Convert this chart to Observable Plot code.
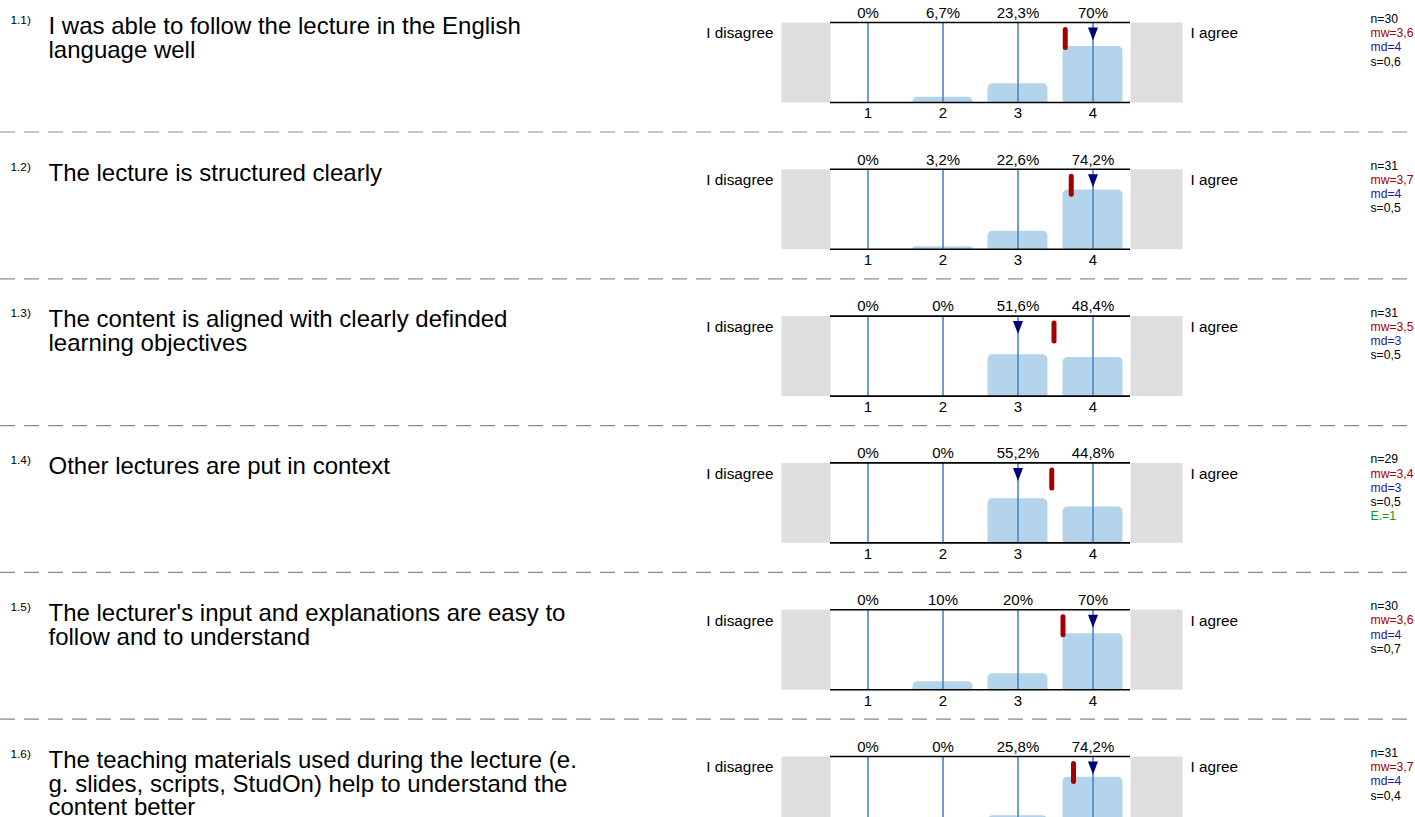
<!DOCTYPE html>
<html>
<head>
<meta charset="utf-8">
<script src="https://cdn.jsdelivr.net/npm/d3@7"></script>
<script src="https://cdn.jsdelivr.net/npm/@observablehq/plot@0.6"></script>
<style>
  html, body { margin: 0; padding: 0; background: #fff; overflow: hidden; }
  #chart svg { display: block; }
</style>
</head>
<body>
<div id="chart"></div>
<script>
// ---------- data ----------
const questionNumbers = ["1.1)", "1.2)", "1.3)", "1.4)", "1.5)", "1.6)"];
const questions = [
  "I was able to follow the lecture in the English\nlanguage well",
  "The lecture is structured clearly",
  "The content is aligned with clearly definded\nlearning objectives",
  "Other lectures are put in context",
  "The lecturer's input and explanations are easy to\nfollow and to understand",
  "The teaching materials used during the lecture (e.\ng. slides, scripts, StudOn) help to understand the\ncontent better"
];
const categories = [1, 2, 3, 4];
const tickLabels = ["1", "2", "3", "4"];
const leftPole = "I disagree";
const rightPole = "I agree";
const percentages = [
  [0, 6.7, 23.3, 70],
  [0, 3.2, 22.6, 74.2],
  [0, 0, 51.6, 48.4],
  [0, 0, 55.2, 44.8],
  [0, 10, 20, 70],
  [0, 0, 25.8, 74.2]
];
const nValues = [30, 31, 31, 29, 30, 31];
const meanPositions = [3.63, 3.71, 3.48, 3.45, 3.6, 3.74];
const meanLabels = [3.6, 3.7, 3.5, 3.4, 3.6, 3.7];
const medians = [4, 4, 3, 3, 4, 4];
const stdDevs = [0.6, 0.5, 0.5, 0.5, 0.7, 0.4];
const abstentions = [null, null, null, 1, null, null];

// ---------- tables ----------
const fmt = v => String(v).replace(".", ",");
const rows = questions.map((q, i) => ({
  row: i, num: questionNumbers[i], question: q,
  n: nValues[i], mean: meanPositions[i], meanLabel: meanLabels[i],
  median: medians[i], s: stdDevs[i], e: abstentions[i]
}));
const cells = rows.flatMap(r => categories.map((k, j) => ({
  row: r.row, k, pct: percentages[r.row][j], tick: tickLabels[j]
})));

// ---------- styles ----------
const FONT = "'Liberation Sans', Arial, Helvetica, sans-serif";
const barFill = "#b4d4eb";
const lineBlue = "#4a86c6";
const meanRed = "#a50000";
const medianNavy = "#00007a";
const grayBox = "#dedede";

const downTriangle = {
  draw(ctx) {
    ctx.moveTo(-5, -6.5);
    ctx.lineTo(5, -6.5);
    ctx.lineTo(0, 6.5);
    ctx.closePath();
  }
};

const step = 146.8, band = 80;
const pInner = (step - band) / step;
const nRows = rows.length;
const marginTop = 22, marginBottom = 45;
const height = marginTop + step * (nRows - pInner) + marginBottom;

const statFont = 12.2, statStep = 14.2, statX = 240, statTop = -3.5;

const plot = Plot.plot({
  width: 1415,
  height,
  marginLeft: 830,
  marginRight: 285,
  marginTop,
  marginBottom,
  style: { fontFamily: FONT, background: "white", color: "black" },
  x: { domain: [0.5, 4.5], axis: null },
  y: { domain: [0, 100], axis: null },
  fy: { domain: rows.map(r => r.row), paddingInner: pInner, paddingOuter: 0, round: false, axis: null },
  marks: [
    // gray pole boxes + white plotting area
    Plot.frame({ fill: grayBox, stroke: null, insetLeft: -49, insetRight: -52 }),
    Plot.frame({ fill: "white", stroke: null }),
    // bars
    Plot.rect(cells, {
      x1: d => d.k - 0.4, x2: d => d.k + 0.4, y1: () => 0, y2: "pct",
      fy: "row", fill: barFill, ry2: 5
    }),
    // category lines
    Plot.ruleX(cells, { x: "k", fy: "row", stroke: lineBlue, strokeWidth: 1.6 }),
    // top & bottom lines
    Plot.ruleY(rows, { y: () => 0, fy: "row", stroke: "black", strokeWidth: 1.6 }),
    Plot.ruleY(rows, { y: () => 100, fy: "row", stroke: "black", strokeWidth: 1.6 }),
    // mean marker
    Plot.ruleX(rows, {
      x: "mean", fy: "row", stroke: meanRed, strokeWidth: 5, strokeLinecap: "round",
      insetTop: 7.5, insetBottom: 54.5
    }),
    // median triangle
    Plot.dot(rows, {
      x: "median", fy: "row", frameAnchor: "top", dy: 11.5,
      symbol: downTriangle, fill: medianNavy, stroke: null
    }),
    // percentages
    Plot.text(cells, {
      x: "k", fy: "row", text: d => fmt(d.pct) + "%", frameAnchor: "top",
      lineAnchor: "middle", dy: -9.5, fontSize: 15
    }),
    // tick labels
    Plot.text(cells, {
      x: "k", fy: "row", text: "tick", frameAnchor: "bottom",
      lineAnchor: "middle", dy: 11, fontSize: 15
    }),
    // pole labels
    Plot.text([leftPole], {
      text: d => d, frameAnchor: "top-left", lineAnchor: "middle",
      dx: -57, dy: 11, textAnchor: "end", fontSize: 15.3
    }),
    Plot.text([rightPole], {
      text: d => d, frameAnchor: "top-right", lineAnchor: "middle",
      dx: 60, dy: 11, textAnchor: "start", fontSize: 15.3
    }),
    // question numbers and questions
    Plot.text(rows, {
      text: "num", fy: "row", frameAnchor: "top-left", lineAnchor: "middle",
      dx: -820, dy: -2.5, textAnchor: "start", fontSize: 11.8
    }),
    Plot.text(rows, {
      text: "question", fy: "row", frameAnchor: "top-left", lineAnchor: "top",
      dx: -782, dy: -5.5, textAnchor: "start", fontSize: 24, lineHeight: 0.99
    }),
    // statistics
    Plot.text(rows, {
      text: d => `n=${d.n}`, fy: "row", frameAnchor: "top-right", lineAnchor: "middle",
      dx: statX, dy: statTop, textAnchor: "start", fontSize: statFont, fill: "black"
    }),
    Plot.text(rows, {
      text: d => `mw=${fmt(d.meanLabel)}`, fy: "row", frameAnchor: "top-right", lineAnchor: "middle",
      dx: statX, dy: statTop + statStep, textAnchor: "start", fontSize: statFont, fill: "#a00000"
    }),
    Plot.text(rows, {
      text: d => `md=${fmt(d.median)}`, fy: "row", frameAnchor: "top-right", lineAnchor: "middle",
      dx: statX, dy: statTop + 2 * statStep, textAnchor: "start", fontSize: statFont, fill: "#1a1aa0"
    }),
    Plot.text(rows, {
      text: d => `s=${fmt(d.s)}`, fy: "row", frameAnchor: "top-right", lineAnchor: "middle",
      dx: statX, dy: statTop + 3 * statStep, textAnchor: "start", fontSize: statFont, fill: "black"
    }),
    Plot.text(rows.filter(d => d.e != null), {
      text: d => `E.=${fmt(d.e)}`, fy: "row", frameAnchor: "top-right", lineAnchor: "middle",
      dx: statX, dy: statTop + 4 * statStep, textAnchor: "start", fontSize: statFont, fill: "#0a9a0a"
    }),
    // dashed separators
    Plot.ruleY(rows, {
      y: () => 0, fy: "row", dy: 29.5, insetLeft: -830, insetRight: -285,
      stroke: "#8c8c8c", strokeWidth: 1.2, strokeDasharray: "15,9"
    })
  ]
});

document.getElementById("chart").appendChild(plot);
</script>
</body>
</html>
